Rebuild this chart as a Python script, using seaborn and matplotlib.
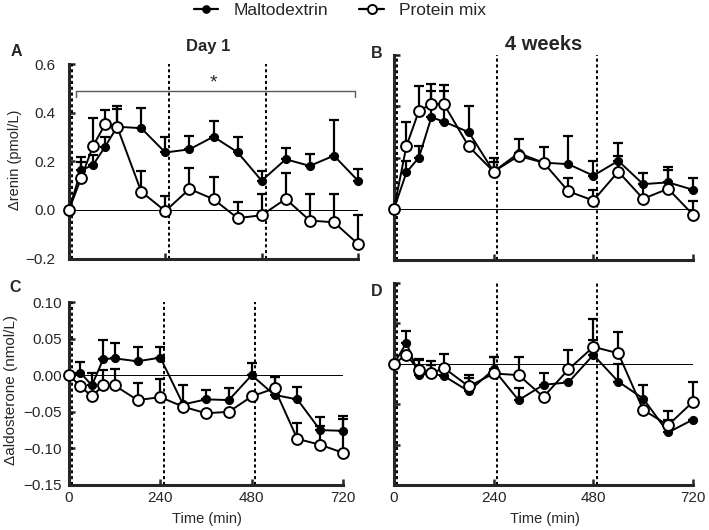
"""Renin and aldosterone responses (Day 1 vs 4 weeks): maltodextrin vs protein mix."""

import matplotlib
matplotlib.use("Agg")
import matplotlib.pyplot as plt
from matplotlib.lines import Line2D
import numpy as np
import seaborn as sns

TIME = [0, 30, 60, 90, 120, 180, 240, 300, 360, 420, 480, 540, 600, 660, 720]
MEALS = [8, 249, 490]

# Panel A - renin, day 1 (mean, upper error end)
renin_d1_malto = [0, 0.162, 0.185, 0.26, 0.342, 0.336, 0.236, 0.249, 0.301, 0.237, 0.12, 0.208, 0.181, 0.223, 0.12]
renin_d1_malto_up = [0, 0.216, 0.225, 0.30, 0.427, 0.418, 0.301, 0.304, 0.367, 0.30, 0.158, 0.253, 0.23, 0.37, 0.169]
renin_d1_prot = [0, 0.13, 0.263, 0.352, 0.342, 0.075, -0.005, 0.086, 0.044, -0.034, -0.022, 0.045, -0.044, -0.051, -0.14]
renin_d1_prot_up = [0, 0.195, 0.377, 0.41, 0.414, 0.158, 0.059, 0.171, 0.137, 0.031, 0.066, 0.153, 0.064, 0.064, -0.023]

# Panel B - renin, 4 weeks
renin_w4_malto = [0, 0.142, 0.20, 0.357, 0.34, 0.299, 0.145, 0.217, 0.18, 0.174, 0.129, 0.187, 0.096, 0.103, 0.074]
renin_w4_malto_up = [0, 0.187, 0.243, 0.461, 0.46, 0.40, 0.20, 0.271, 0.24, 0.284, 0.188, 0.256, 0.139, 0.162, 0.119]
renin_w4_prot = [0, 0.245, 0.382, 0.409, 0.409, 0.243, 0.145, 0.206, 0.18, 0.068, 0.032, 0.145, 0.039, 0.078, -0.023]
renin_w4_prot_up = [0, 0.34, 0.479, 0.487, 0.483, 0.243, 0.184, 0.206, 0.18, 0.119, 0.074, 0.206, 0.097, 0.152, 0.031]

# Panel C - aldosterone, day 1
aldo_d1_malto = [0, 0.0036, -0.014, 0.022, 0.023, 0.019, 0.024, -0.04, -0.033, -0.034, 0, -0.027, -0.033, -0.075, -0.076]
aldo_d1_malto_up = [0, 0.018, 0.003, 0.048, 0.044, 0.038, 0.038, -0.014, -0.02, -0.018, 0.017, -0.003, -0.016, -0.057, -0.056]
aldo_d1_prot = [0, -0.015, -0.029, -0.014, -0.014, -0.034, -0.03, -0.043, -0.052, -0.05, -0.029, -0.018, -0.087, -0.095, -0.106]
aldo_d1_prot_up = [0, -0.015, -0.029, 0.007, 0.009, -0.011, -0.005, -0.043, -0.052, -0.05, -0.029, -0.003, -0.065, -0.07, -0.06]

# Panel D - aldosterone, 4 weeks
aldo_w4_malto = [0, 0.026, -0.014, -0.012, -0.015, -0.034, -0.007, -0.045, -0.026, -0.023, 0.011, -0.022, -0.043, -0.085, -0.069]
aldo_w4_malto_up = [0, 0.040, 0.005, -0.001, -0.015, -0.014, 0.008, -0.03, -0.012, -0.023, 0.030, 0, -0.026, -0.069, -0.069]
aldo_w4_prot = [0, 0.011, -0.008, -0.012, -0.005, -0.028, -0.012, -0.014, -0.041, -0.007, 0.021, 0.013, -0.057, -0.076, -0.047]
aldo_w4_prot_up = [0, 0.011, 0.006, 0.004, 0.012, -0.018, 0.008, 0.008, -0.041, 0.017, 0.055, 0.039, -0.057, -0.059, -0.022]

W, H = 709, 530


def px_axes(fig, left, top, right, bottom):
    return fig.add_axes([left / W, 1 - bottom / H, (right - left) / W, (bottom - top) / H])


def draw_series(ax, mean, upper, filled):
    mean = np.array(mean)
    upper = np.array(upper)
    err = np.clip(upper - mean, 0, None)
    ax.errorbar(TIME, mean, yerr=[np.zeros_like(err), err], fmt="none", ecolor="black",
                elinewidth=1.6, capsize=3.5, capthick=1.6, zorder=2, clip_on=False)
    sns.lineplot(x=TIME, y=mean, ax=ax, color="black", lw=1.4, marker="o",
                 markersize=5.2 if filled else 7.8,
                 markerfacecolor="black" if filled else "white",
                 markeredgecolor="black", markeredgewidth=1.4,
                 zorder=3 if filled else 4, clip_on=False)


def style_panel(ax, ylim, yticks, ylabels, xlabels, ypad=5):
    ax.set_xlim(0, 720)
    ax.set_ylim(*ylim)
    ax.axhline(0, color="black", lw=0.7, zorder=1)
    for m in MEALS:
        ax.axvline(m, color="black", lw=1.4, ls=(0, (1.6, 1.4)), zorder=1)
    ax.set_yticks(yticks)
    ax.set_xticks([0, 240, 480, 720])
    if ylabels:
        ax.set_yticklabels(ylabels)
    else:
        ax.set_yticklabels([])
    if xlabels:
        ax.set_xticklabels(["0", "240", "480", "720"])
    else:
        ax.set_xticklabels([])
    ax.tick_params(direction="in", length=4, width=1.8, labelsize=11, pad=4)
    ax.tick_params(axis="y", pad=ypad)
    for side in ["left", "bottom"]:
        ax.spines[side].set_linewidth(2.2)
    sns.despine(ax=ax)
    ax.set_xlabel("")
    ax.set_ylabel("")


def main():
    sns.set_style("ticks")
    plt.rcParams["font.family"] = ["Liberation Sans", "DejaVu Sans"]

    fig = plt.figure(figsize=(W / 100, H / 100), dpi=100)

    ax_a = px_axes(fig, 69, 64, 358, 258.5)
    ax_b = px_axes(fig, 394, 55, 693, 260)
    ax_c = px_axes(fig, 69, 302, 343, 485)
    ax_d = px_axes(fig, 394, 283, 693, 485)

    renin_ticks = [-0.2, 0.0, 0.2, 0.4, 0.6]
    renin_labels = ["\u22120.2", "0.0", "0.2", "0.4", "0.6"]
    aldo_ticks = [-0.15, -0.10, -0.05, 0.0, 0.05, 0.10]
    aldo_labels = ["\u22120.15", "\u22120.10", "\u22120.05", "0.00", "0.05", "0.10"]

    style_panel(ax_a, (-0.2, 0.6), renin_ticks, renin_labels, False, ypad=10)
    style_panel(ax_b, (-0.2, 0.6), renin_ticks, None, False)
    style_panel(ax_c, (-0.15, 0.10), aldo_ticks, aldo_labels, True, ypad=5)
    style_panel(ax_d, (-0.15, 0.10), aldo_ticks, None, True)

    draw_series(ax_a, renin_d1_malto, renin_d1_malto_up, True)
    draw_series(ax_a, renin_d1_prot, renin_d1_prot_up, False)
    draw_series(ax_b, renin_w4_malto, renin_w4_malto_up, True)
    draw_series(ax_b, renin_w4_prot, renin_w4_prot_up, False)
    draw_series(ax_c, aldo_d1_malto, aldo_d1_malto_up, True)
    draw_series(ax_c, aldo_d1_prot, aldo_d1_prot_up, False)
    draw_series(ax_d, aldo_w4_malto, aldo_w4_malto_up, True)
    draw_series(ax_d, aldo_w4_prot, aldo_w4_prot_up, False)

    # significance bracket on panel A
    ax_a.plot([17, 17, 713, 713], [0.465, 0.49, 0.49, 0.465], color="0.35", lw=1.0, zorder=1)
    ax_a.text(360, 0.52, "*", ha="center", va="center", fontsize=14)

    fig.text(208 / W, 1 - 46 / H, "Day 1", ha="center", va="center", fontsize=12, fontweight="bold")
    fig.text(544 / W, 1 - 45 / H, "4 weeks", ha="center", va="center", fontsize=14.5, fontweight="bold")
    for letter, x, y in [("A", 16, 51), ("B", 377, 53), ("C", 15, 288), ("D", 377, 291)]:
        fig.text(x / W, 1 - y / H, letter, ha="center", va="center", fontsize=11.5, fontweight="bold")

    fig.text(15 / W, 1 - 160 / H, "\u0394renin (pmol/L)", rotation=90, ha="center", va="center", fontsize=10.5)
    fig.text(11 / W, 1 - 390 / H, "\u0394aldosterone (nmol/L)", rotation=90, ha="center", va="center", fontsize=11)
    fig.text(207 / W, 1 - 519 / H, "Time (min)", ha="center", va="center", fontsize=10.5)
    fig.text(545 / W, 1 - 519 / H, "Time (min)", ha="center", va="center", fontsize=10.5)

    handles = [
        Line2D([], [], color="black", lw=1.6, marker="o", markersize=5.2, markerfacecolor="black"),
        Line2D([], [], color="black", lw=1.6, marker="o", markersize=6.5, markerfacecolor="white",
               markeredgewidth=1.4),
    ]
    fig.legend(handles, ["Maltodextrin", "Protein mix"], loc="center", bbox_to_anchor=(340 / W, 1 - 10 / H),
               ncol=2, frameon=False, fontsize=12.5, handlelength=1.4, columnspacing=1.8, handletextpad=0.9)

    fig.savefig("out.png", dpi=100)
    plt.close(fig)


if __name__ == "__main__":
    main()
